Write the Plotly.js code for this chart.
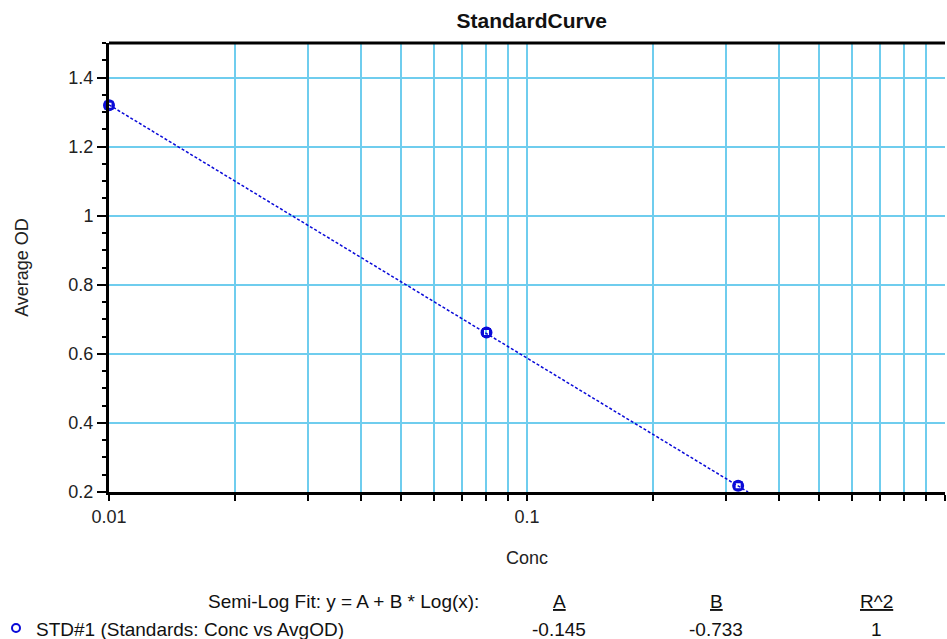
<!DOCTYPE html>
<html>
<head>
<meta charset="utf-8">
<script src="https://cdn.plot.ly/plotly-3.0.1.min.js"></script>
<style>html,body{margin:0;padding:0;background:#fff;}#chart{width:947px;height:639px;}</style>
</head>
<body>
<div id="chart"></div>
<script>
// Data
const concX = [0.01, 0.08, 0.32];
const avgOD = [1.32, 0.662, 0.218];
const fitX = [0.01, 0.338];
const fitY = [1.321, 0.2];
const xTickVals = [0.01,0.02,0.03,0.04,0.05,0.06,0.07,0.08,0.09,0.1,0.2,0.3,0.4,0.5,0.6,0.7,0.8,0.9,1];
const xTickText = ['0.01','','','','','','','','','0.1','','','','','','','','','1'];
const yTickVals = [0.2,0.4,0.6,0.8,1,1.2,1.4];
const yTickText = ['0.2','0.4','0.6','0.8','1','1.2','1.4'];
const fitLabel = 'Semi-Log Fit: y = A + B * Log(x):';
const colHeads = ['A','B','R^2'];
const seriesName = 'STD#1 (Standards: Conc vs AvgOD)';
const fitVals = ['-0.145','-0.733','1'];

const blue = '#0a0ad8';
const gridc = '#6fcdee';
const font = 'Liberation Sans, Arial, sans-serif';

const traces = [
  {x: fitX, y: fitY, mode:'lines', line:{color:blue, width:1.5, dash:'3px,2px'}, hoverinfo:'skip'},
  {x: concX, y: avgOD, mode:'markers', marker:{symbol:'circle-open', size:10, color:blue, line:{width:2, color:blue}}, cliponaxis:false},
  {x: concX, y: avgOD, mode:'markers', marker:{symbol:'square-open', size:7, color:blue, line:{width:2, color:blue}}, cliponaxis:false}
];

const W = 836, H = 449;
function px(x){return (x-109)/W;}
function py(y){return (492-y)/H;}

const ann = [
  {text: fitLabel, x: px(343), y: py(601)},
  {text: '<span style="text-decoration:underline">'+colHeads[0]+'</span>', x: px(559), y: py(601)},
  {text: '<span style="text-decoration:underline">'+colHeads[1]+'</span>', x: px(716), y: py(601)},
  {text: '<span style="text-decoration:underline">'+colHeads[2]+'</span>', x: px(876), y: py(601)},
  {text: seriesName, x: px(34), y: py(629), xanchor:'left'},
  {text: fitVals[0], x: px(559), y: py(629)},
  {text: fitVals[1], x: px(716), y: py(629)},
  {text: fitVals[2], x: px(876), y: py(629)}
].map(a => Object.assign({xref:'paper', yref:'paper', showarrow:false, xanchor:'center', yanchor:'middle', font:{family:font, size:19, color:'#111'}}, a));

const layout = {
  width: 947, height: 639,
  margin: {l:109, r:2, t:43, b:147},
  paper_bgcolor:'#fff', plot_bgcolor:'#fff',
  showlegend:false,
  font:{family:font, size:18, color:'#222'},
  title:{text:'<b>StandardCurve</b>', x:0.5615, xanchor:'center', y:0.968, yanchor:'middle', font:{family:font, size:21, color:'#111'}},
  xaxis:{
    type:'log', range:[-2,0],
    tickmode:'array', tickvals:xTickVals, ticktext:xTickText,
    ticks:'outside', ticklen:6, tickwidth:2, tickcolor:'#000',
    showline:true, linecolor:'#000', linewidth:3, mirror:false,
    showgrid:true, gridcolor:gridc, gridwidth:2,
    zeroline:false,
    tickfont:{family:font, size:18, color:'#222'},
    title:{text:'Conc', standoff:26, font:{family:font, size:18, color:'#222'}}
  },
  yaxis:{
    range:[0.2,1.5],
    tickmode:'array', tickvals:yTickVals, ticktext:yTickText,
    ticks:'outside', ticklen:9, tickwidth:2, tickcolor:'#000',
    minor:{dtick:0.05, tick0:0.2, ticks:'outside', ticklen:4, tickwidth:2, tickcolor:'#000', showgrid:false},
    showline:true, linecolor:'#000', linewidth:3,
    showgrid:true, gridcolor:gridc, gridwidth:2,
    zeroline:false,
    tickfont:{family:font, size:18, color:'#222'},
    title:{text:'Average OD', standoff:36, font:{family:font, size:18, color:'#222'}}
  },
  shapes:[
    {type:'line', xref:'paper', yref:'paper', x0:0, x1:1, y0:1, y1:1, line:{color:'#000', width:3}},
    {type:'circle', xref:'paper', yref:'paper', x0:px(12), x1:px(20), y0:py(624), y1:py(632), line:{color:blue, width:2}}
  ],
  annotations: ann
};

Plotly.newPlot('chart', traces, layout, {displayModeBar:false, staticPlot:true});
</script>
</body>
</html>
